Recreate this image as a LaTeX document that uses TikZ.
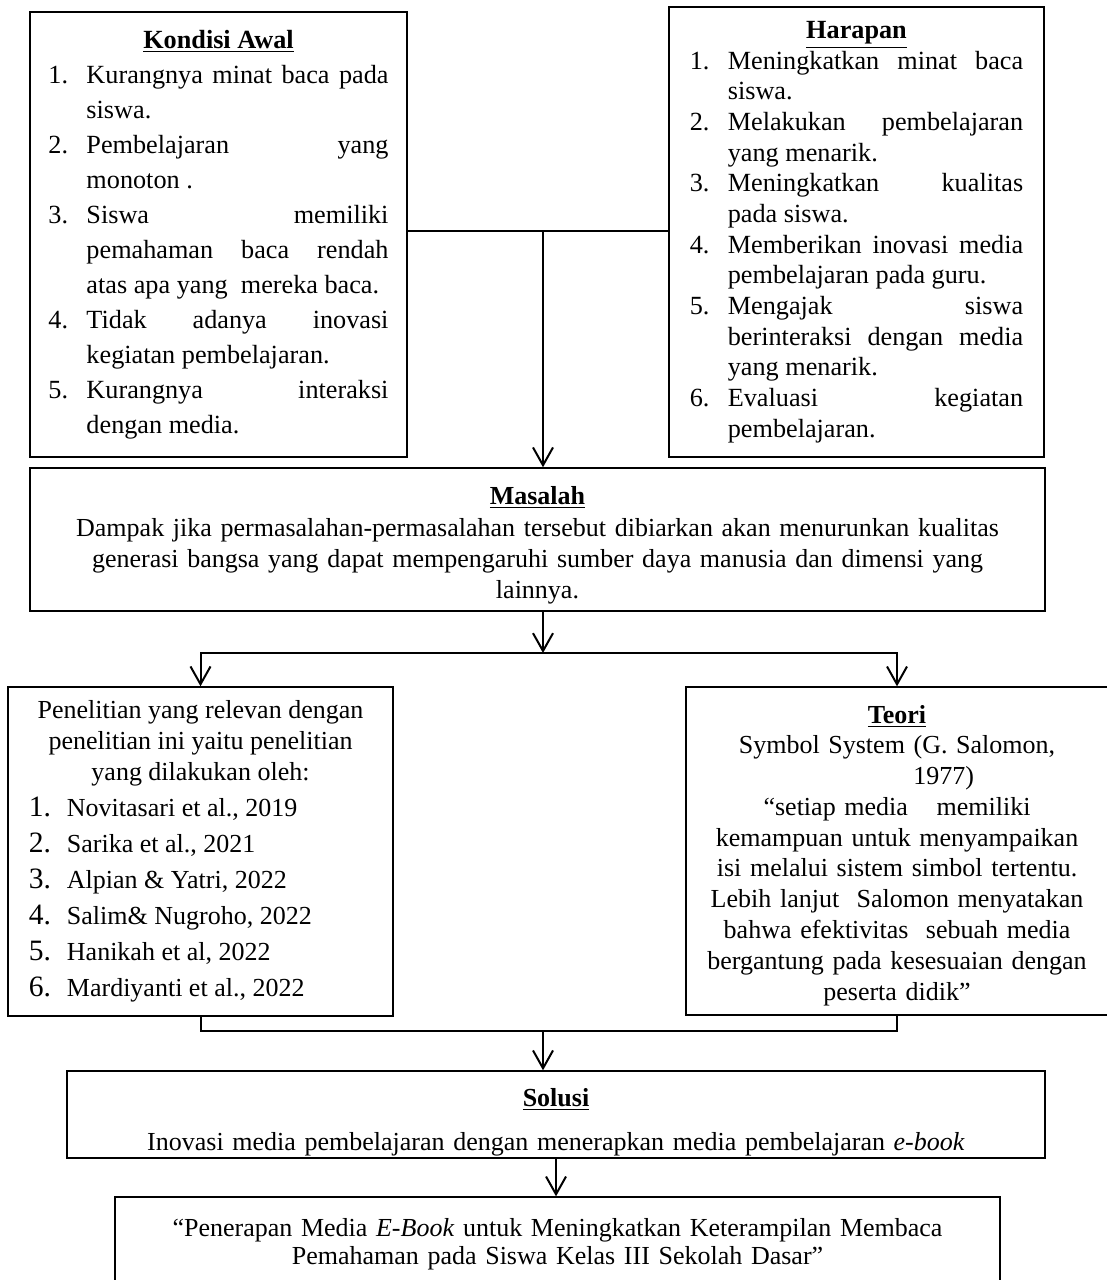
\documentclass[tikz,border=0pt]{standalone}
\usepackage{fontspec}
\setmainfont{Liberation Serif}
\usepackage{tikz}
\usetikzlibrary{positioning, arrows.meta}

\newlength{\itemhang}
\setlength{\itemhang}{17.1pt}
\newcommand{\numitem}[2]{\par\noindent\hangindent=\itemhang\hangafter=1\makebox[\itemhang][l]{#1}#2\par}
\newcommand{\bignum}[2]{\par\noindent\hangindent=\itemhang\hangafter=1\makebox[\itemhang][l]{\fontsize{13.3}{16.2}\selectfont #1}#2\par}
\newcommand{\boxtitle}[1]{\underline{\textbf{#1}}}
\hbadness=10000

\begin{document}
\begin{tikzpicture}[
    x=0.45pt, y=-0.45pt,
    every node/.style={font=\fontsize{11.7}{13.8}\selectfont},
    boxstyle/.style={
        draw,
        line width=0.6pt,
        inner sep=0pt,
        fill=white,
    },
    listbox/.style={
        boxstyle,
        align=justify,
    },
    textbox/.style={
        boxstyle,
        align=center,
    },
    link/.style={
        line width=0.9pt,
    },
    arr/.style={
        link,
        -{Straight Barb[length=8pt, width=9pt]},
    },
]
\path[use as bounding box, fill=white] (0,0) rectangle (1106,1280);

% ===== Fila superior =====
\node[listbox, minimum width=169.7pt, minimum height=200.3pt, text width=153pt,
      font=\fontsize{11.8}{15.75}\selectfont] (kondisi) at (218.5,234.5) {
    {\centering\boxtitle{Kondisi Awal}\par}
    \numitem{1.}{Kurangnya minat baca pada\linebreak siswa.}
    \numitem{2.}{Pembelajaran yang\linebreak monoton .}
    \numitem{3.}{Siswa memiliki\linebreak pemahaman baca rendah\linebreak atas apa yang\ \ mereka baca.}
    \numitem{4.}{Tidak adanya inovasi\linebreak kegiatan pembelajaran.}
    \numitem{5.}{Kurangnya interaksi\linebreak dengan media.}
};

\node[listbox, minimum width=168.8pt, minimum height=202.5pt, text width=150pt,
      font=\fontsize{11.8}{13.8}\selectfont] (harapan) at (856.5,232) {
    {\centering\boxtitle{Harapan}\par}
    \numitem{1.}{Meningkatkan minat baca\linebreak siswa.}
    \numitem{2.}{Melakukan pembelajaran\linebreak yang menarik.}
    \numitem{3.}{Meningkatkan kualitas\linebreak pada siswa.}
    \numitem{4.}{Memberikan inovasi media\linebreak pembelajaran pada guru.}
    \numitem{5.}{Mengajak siswa\linebreak berinteraksi dengan media\linebreak yang menarik.}
    \numitem{6.}{Evaluasi kegiatan\linebreak pembelajaran.}
};

% ===== Masalah =====
\node[textbox, minimum width=456.8pt, minimum height=64.4pt, text width=440pt] (masalah) at (537.5,539.5) {
    \rule{0pt}{13pt}\boxtitle{Masalah}\\[1pt]
    Dampak jika permasalahan-permasalahan tersebut dibiarkan akan menurunkan kualitas\\
    generasi bangsa yang dapat mempengaruhi sumber daya manusia dan dimensi yang\\
    lainnya.
};

% ===== Fila tengah =====
\node[listbox, minimum width=173.3pt, minimum height=148.1pt, text width=154.4pt,
      font=\fontsize{11.7}{16.2}\selectfont] (penelitian) at (200.5,851.5) {
    {\centering\fontsize{11.7}{14}\selectfont Penelitian yang relevan dengan\\
    penelitian ini yaitu penelitian\\
    yang dilakukan oleh:\par}
    \bignum{1.}{Novitasari et al., 2019}
    \bignum{2.}{Sarika et al., 2021}
    \bignum{3.}{Alpian \& Yatri, 2022}
    \bignum{4.}{Salim\& Nugroho, 2022}
    \bignum{5.}{Hanikah et al, 2022}
    \bignum{6.}{Mardiyanti et al., 2022}
};

\node[textbox, minimum width=190pt, minimum height=147.6pt, text width=180pt,
      font=\fontsize{11.7}{13.85}\selectfont] (teori) at (897,851) {
    \rule{0pt}{12pt}\boxtitle{Teori}\\
    Symbol System (G. Salomon,\\
    \hspace*{42pt}1977)\\
    “setiap media\hspace{9pt} memiliki\\
    kemampuan untuk menyampaikan\\
    isi melalui sistem simbol tertentu.\\
    Lebih lanjut\ \ Salomon menyatakan\\
    bahwa efektivitas\ \ sebuah media\\
    bergantung pada kesesuaian dengan\\
    peserta didik”
};

% ===== Fila inferior =====
\node[textbox, minimum width=440.1pt, minimum height=39.2pt, text width=420pt] (solusi) at (556,1114.5) {
    \rule{0pt}{15pt}\boxtitle{Solusi}\\[6pt]
    Inovasi media pembelajaran dengan menerapkan media pembelajaran \textit{e-book}
};

\node[textbox, minimum width=398.3pt, minimum height=39.6pt, text width=390pt,
      font=\fontsize{11.7}{13}\selectfont] (judul) at (557.5,1241) {
    \rule{0pt}{11pt}“Penerapan Media \textit{E-Book} untuk Meningkatkan Keterampilan Membaca\\
    Pemahaman pada Siswa Kelas III Sekolah Dasar”
};

% ===== Conexiones =====
\coordinate (junctop) at (543,231);
\coordinate (splitmid) at (543,653);
\coordinate (joinmid) at (543,1031);

\draw[link] (kondisi.east |- junctop) -- (harapan.west |- junctop);
\draw[arr] (junctop) -- (junctop |- masalah.north);

\draw[arr] (masalah.south -| splitmid) -- (splitmid);
\draw[arr] (splitmid) -| (penelitian.north);
\draw[arr] (splitmid) -| (teori.north);

\draw[link] (penelitian.south) |- (joinmid) -| (teori.south);
\draw[arr] (joinmid) -- (joinmid |- solusi.north);
\draw[arr] (solusi.south) -- (solusi.south |- judul.north);

\end{tikzpicture}
\end{document}
